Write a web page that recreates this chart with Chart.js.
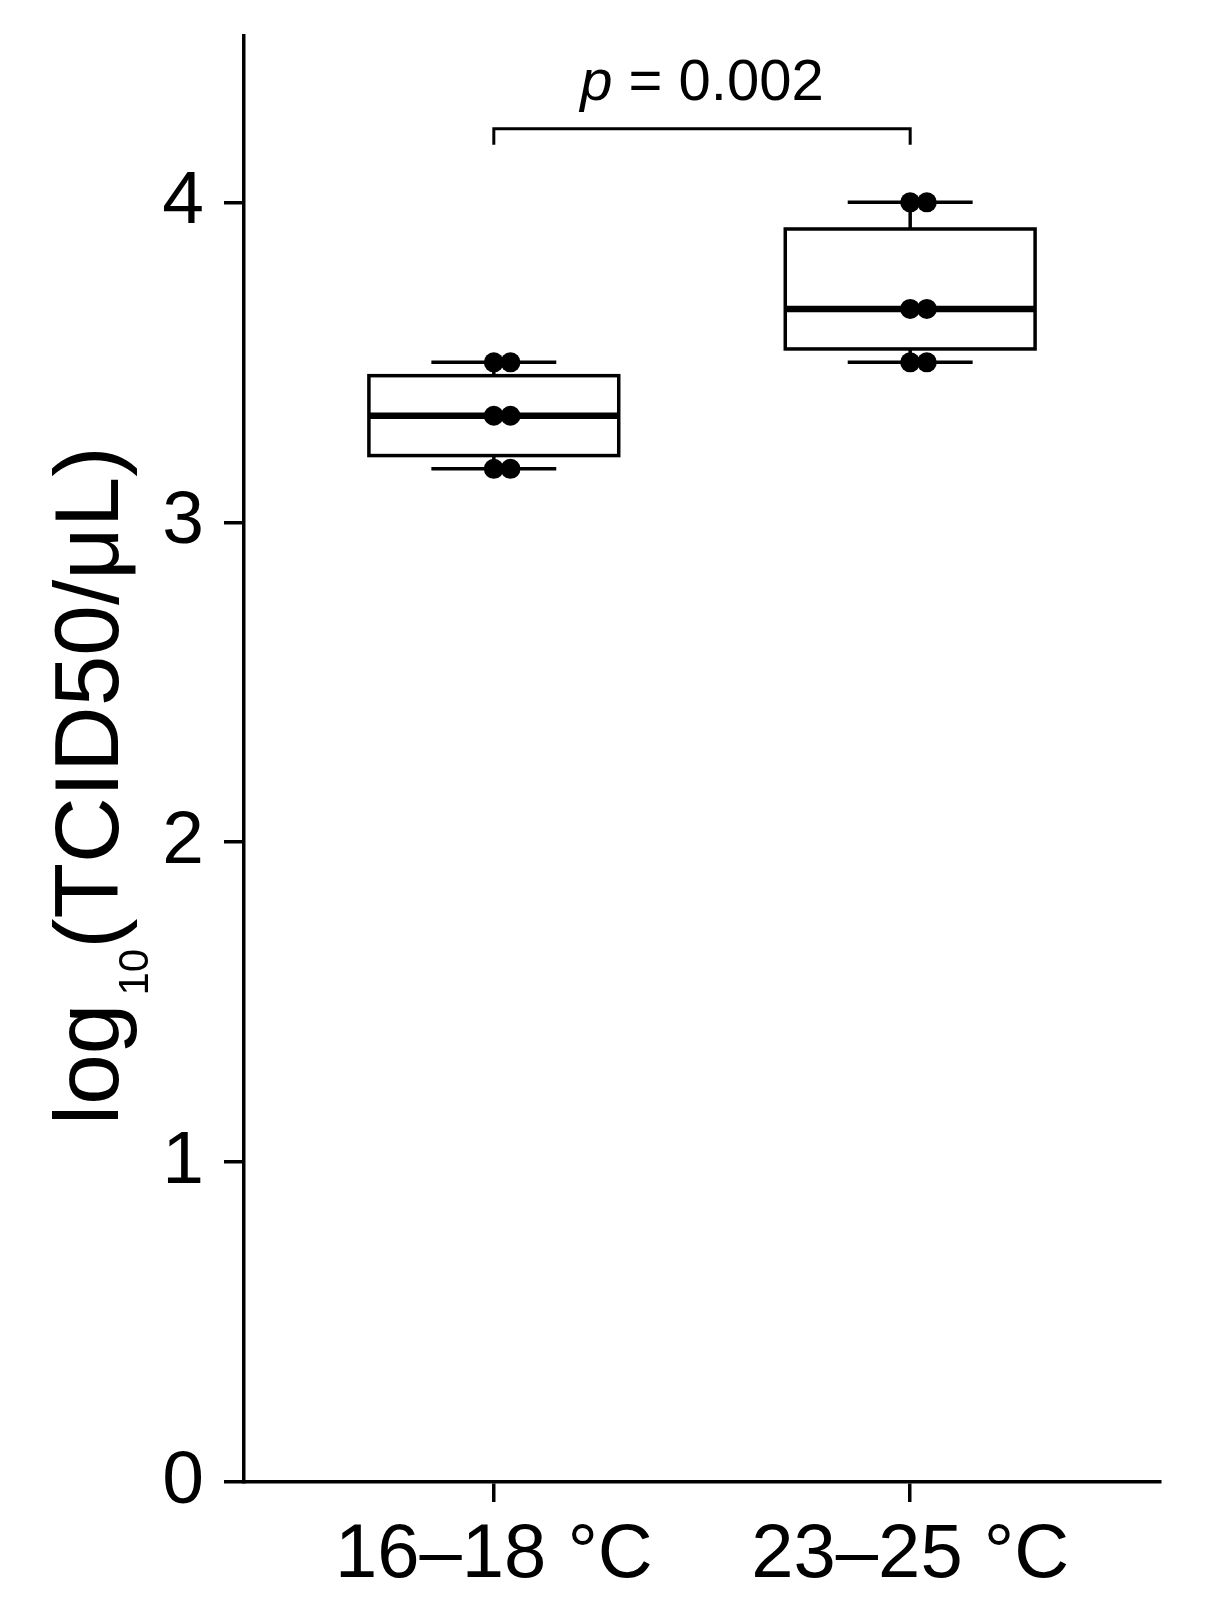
<!DOCTYPE html>
<html>
<head>
<meta charset="utf-8">
<script src="https://cdn.jsdelivr.net/npm/chart.js@4.4.1/dist/chart.umd.min.js"></script>
<style>
  html, body { margin: 0; padding: 0; background: #fff; }
  #wrap { width: 1206px; height: 1619px; }
</style>
</head>
<body>
<div id="wrap"><canvas id="chart" width="1206" height="1619"></canvas></div>
<script>
// data, log10(TCID50/uL) per replicate
const categories = ['16–18 °C', '23–25 °C'];
const coldValues = [3.5, 3.5, 3.333, 3.333, 3.167, 3.167];
const warmValues = [4.0, 4.0, 3.667, 3.667, 3.5, 3.5];
const dotJitter = [0, 0.04, 0, 0.04, 0, 0.04];
const yTicks = [0, 1, 2, 3, 4];
const pValue = '0.002';

const groups = [coldValues, warmValues];
const FONT = "'Liberation Sans', Arial, Helvetica, sans-serif";

// R type-7 quantile, like boxplot in ggplot
function quantile(sorted, q) {
  const pos = (sorted.length - 1) * q;
  const lo = Math.floor(pos);
  const hi = Math.ceil(pos);
  return sorted[lo] + (sorted[hi] - sorted[lo]) * (pos - lo);
}

function boxStats(values) {
  const s = [...values].sort((a, b) => a - b);
  return {
    min: s[0],
    q1: quantile(s, 0.25),
    med: quantile(s, 0.5),
    q3: quantile(s, 0.75),
    max: s[s.length - 1]
  };
}

function line(ctx, x1, y1, x2, y2) {
  ctx.beginPath();
  ctx.moveTo(x1, y1);
  ctx.lineTo(x2, y2);
  ctx.stroke();
}

const boxPlugin = {
  id: 'boxes',
  beforeDatasetsDraw(chart) {
    const {ctx, scales: {x, y}} = chart;
    ctx.save();
    ctx.strokeStyle = '#000';
    groups.forEach((vals, i) => {
      const st = boxStats(vals);
      const c = i + 1;
      const xc = x.getPixelForValue(c);
      const xl = x.getPixelForValue(c - 0.3);
      const xr = x.getPixelForValue(c + 0.3);
      const cl = x.getPixelForValue(c - 0.15);
      const cr = x.getPixelForValue(c + 0.15);
      ctx.lineWidth = 3.5;
      line(ctx, xc, y.getPixelForValue(st.q3), xc, y.getPixelForValue(st.max));
      line(ctx, xc, y.getPixelForValue(st.q1), xc, y.getPixelForValue(st.min));
      line(ctx, cl, y.getPixelForValue(st.max), cr, y.getPixelForValue(st.max));
      line(ctx, cl, y.getPixelForValue(st.min), cr, y.getPixelForValue(st.min));
      const top = y.getPixelForValue(st.q3);
      const bot = y.getPixelForValue(st.q1);
      ctx.fillStyle = '#fff';
      ctx.fillRect(xl, top, xr - xl, bot - top);
      ctx.strokeRect(xl, top, xr - xl, bot - top);
      ctx.lineWidth = 6.5;
      line(ctx, xl, y.getPixelForValue(st.med), xr, y.getPixelForValue(st.med));
    });
    ctx.restore();
  },
  afterDraw(chart) {
    const {ctx, scales: {x, y}} = chart;
    ctx.save();
    ctx.strokeStyle = '#000';
    ctx.fillStyle = '#000';

    // significance bracket
    const bx1 = x.getPixelForValue(1);
    const bx2 = x.getPixelForValue(2);
    const by = y.getPixelForValue(4.23);
    const byEnd = y.getPixelForValue(4.18);
    ctx.lineWidth = 3;
    ctx.beginPath();
    ctx.moveTo(bx1, byEnd);
    ctx.lineTo(bx1, by);
    ctx.lineTo(bx2, by);
    ctx.lineTo(bx2, byEnd);
    ctx.stroke();

    ctx.textBaseline = 'alphabetic';
    ctx.textAlign = 'left';
    ctx.font = 'italic 58px ' + FONT;
    const pw = ctx.measureText('p').width;
    ctx.font = '58px ' + FONT;
    const rest = ' = ' + pValue;
    const rw = ctx.measureText(rest).width;
    const start = (bx1 + bx2) / 2 - (pw + rw) / 2;
    ctx.font = 'italic 58px ' + FONT;
    ctx.fillText('p', start, 100);
    ctx.font = '58px ' + FONT;
    ctx.fillText(rest, start + pw, 100);

    // y axis title with subscript
    ctx.translate(118, 1125);
    ctx.rotate(-Math.PI / 2);
    ctx.font = '91px ' + FONT;
    ctx.fillText('log', 0, 0);
    let w = ctx.measureText('log').width + 8;
    ctx.font = '42px ' + FONT;
    ctx.fillText('10', w, 30);
    w += ctx.measureText('10').width;
    ctx.font = '91px ' + FONT;
    ctx.fillText('(TCID50/μL)', w, 0);
    ctx.restore();
  }
};

const points = [];
groups.forEach((vals, i) => {
  vals.forEach((v, k) => points.push({x: i + 1 + dotJitter[k], y: v}));
});

Chart.defaults.font.family = FONT;
Chart.defaults.color = '#000';

new Chart(document.getElementById('chart'), {
  type: 'scatter',
  data: {
    datasets: [{
      data: points,
      backgroundColor: '#000',
      borderWidth: 0,
      pointRadius: 10,
      pointHoverRadius: 10,
      clip: false
    }]
  },
  options: {
    responsive: false,
    animation: false,
    devicePixelRatio: 1,
    layout: {padding: {top: 36, right: 46, left: 0, bottom: 0}},
    plugins: {legend: {display: false}, tooltip: {enabled: false}},
    scales: {
      x: {
        type: 'linear',
        min: 0.4,
        max: 2.6,
        afterBuildTicks: s => { s.ticks = categories.map((c, i) => ({value: i + 1})); },
        afterFit: s => { s.height = 137; s.paddingLeft = 0; s.paddingRight = 0; },
        ticks: {
          callback: (v, idx) => categories[idx],
          font: {size: 76},
          color: '#000',
          padding: 8,
          autoSkip: false,
          maxRotation: 0
        },
        grid: {drawOnChartArea: false, drawTicks: true, tickLength: 20, lineWidth: 3.5, color: '#000'},
        border: {display: true, width: 3.5, color: '#000'}
      },
      y: {
        type: 'linear',
        min: 0,
        max: 4.52,
        afterBuildTicks: s => { s.ticks = yTicks.map(v => ({value: v})); },
        afterFit: s => { s.width = 244; s.paddingTop = 0; s.paddingBottom = 0; },
        ticks: {
          font: {size: 75},
          color: '#000',
          padding: 20
        },
        grid: {drawOnChartArea: false, drawTicks: true, tickLength: 20, lineWidth: 3.5, color: '#000'},
        border: {display: true, width: 3.5, color: '#000'}
      }
    }
  },
  plugins: [boxPlugin]
});
</script>
</body>
</html>
